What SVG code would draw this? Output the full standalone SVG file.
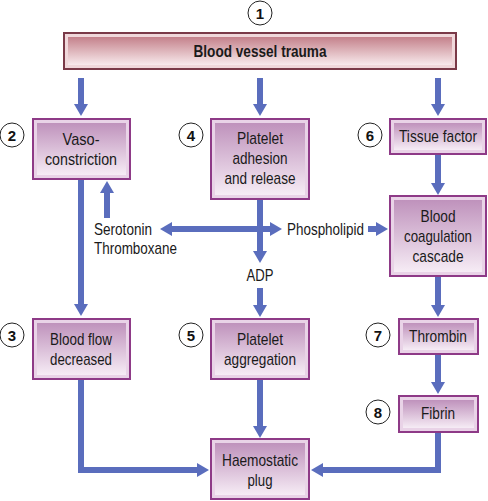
<svg xmlns="http://www.w3.org/2000/svg" width="488" height="501" viewBox="0 0 488 501">
<defs>
<linearGradient id="gp" x1="0" y1="0" x2="0" y2="1">
<stop offset="0" stop-color="#bf92bc"/>
<stop offset="1" stop-color="#f6ecf5"/>
</linearGradient>
<linearGradient id="gr" x1="0" y1="0" x2="0" y2="1">
<stop offset="0" stop-color="#c4818b"/>
<stop offset="1" stop-color="#f8eaec"/>
</linearGradient>
<marker id="ah" viewBox="0 0 12 14" refX="0" refY="7" markerWidth="12" markerHeight="14" markerUnits="userSpaceOnUse" orient="auto">
<path d="M0,0 L12,7 L0,14 z" fill="#5a6dbd"/>
</marker>
</defs>
<style>
.box{fill:#e9d3e7;stroke:#8e3a87;stroke-width:2}
.inner{fill:url(#gp);stroke:none}
.bar{fill:#f0d8db;stroke:#7a3a48;stroke-width:2}
.barin{fill:url(#gr)}
.t{font-family:"Liberation Sans",Arial,sans-serif;font-size:17px;fill:#1a1a1a;text-anchor:middle}
.l{font-family:"Liberation Sans",Arial,sans-serif;font-size:17px;fill:#1a1a1a}
.b{font-weight:bold}
.c{fill:#fff;stroke:#222;stroke-width:1}
.n{font-family:"Liberation Sans",Arial,sans-serif;font-size:15px;font-weight:bold;fill:#111;text-anchor:middle}
.a{fill:none;stroke:#5a6dbd;stroke-width:6;marker-end:url(#ah)}
</style>

<g id="connectors">
<path class="a" d="M81,78 V104"/>
<path class="a" d="M260,78 V104"/>
<path class="a" d="M438,78 V104"/>
<path class="a" d="M438,154 V183"/>
<path class="a" d="M107,218 V193"/>
<path class="a" d="M260,199 V251"/>
<path class="a" d="M260,229 H172"/>
<path class="a" d="M260,229 H270"/>
<path class="a" d="M368,229 H376"/>
<path class="a" d="M81,179 V304"/>
<path class="a" d="M260,288 V305"/>
<path class="a" d="M438,276 V305"/>
<path class="a" d="M438,354 V382"/>
<path class="a" d="M260,379 V426"/>
<path class="a" d="M81,379 V470 H197"/>
<path class="a" d="M438,432 V470 H323"/>
</g>

<g id="n1">
<circle class="c" cx="260" cy="13" r="12"/>
<text class="n" x="260" y="18.5">1</text>
</g>
<g id="trauma">
<rect class="bar" x="64" y="33" width="392" height="36"/>
<rect class="barin" x="68" y="37" width="384" height="28"/>
<text class="t b" x="260" y="56.5" font-size="17" textLength="133" lengthAdjust="spacingAndGlyphs">Blood vessel trauma</text>
</g>

<g id="n2">
<circle class="c" cx="12" cy="135" r="12"/>
<text class="n" x="12" y="140.5">2</text>
</g>
<g id="vasoconstriction">
<rect class="box" x="33" y="119" width="97" height="60"/>
<rect class="inner" x="37" y="123" width="89" height="52"/>
<text class="t" x="81" y="145" textLength="37" lengthAdjust="spacingAndGlyphs">Vaso-</text>
<text class="t" x="81" y="165" textLength="72" lengthAdjust="spacingAndGlyphs">constriction</text>
</g>

<g id="n4">
<circle class="c" cx="191" cy="135" r="12"/>
<text class="n" x="191" y="140.5">4</text>
</g>
<g id="adhesion">
<rect class="box" x="211" y="119" width="98" height="80"/>
<rect class="inner" x="215" y="123" width="90" height="72"/>
<text class="t" x="260" y="144" textLength="46" lengthAdjust="spacingAndGlyphs">Platelet</text>
<text class="t" x="260" y="164" textLength="55" lengthAdjust="spacingAndGlyphs">adhesion</text>
<text class="t" x="260" y="184" textLength="71" lengthAdjust="spacingAndGlyphs">and release</text>
</g>

<g id="n6">
<circle class="c" cx="370" cy="135" r="12"/>
<text class="n" x="370" y="140.5">6</text>
</g>
<g id="tissue">
<rect class="box" x="390" y="119" width="96" height="35"/>
<rect class="inner" x="394" y="123" width="88" height="27"/>
<text class="t" x="438" y="141.5" font-size="15" textLength="78" lengthAdjust="spacingAndGlyphs">Tissue factor</text>
</g>

<g id="cascade">
<rect class="box" x="390" y="196" width="96" height="80"/>
<rect class="inner" x="394" y="200" width="88" height="72"/>
<text class="t" x="438" y="222" textLength="35" lengthAdjust="spacingAndGlyphs">Blood</text>
<text class="t" x="438" y="242" font-size="15.5" textLength="68" lengthAdjust="spacingAndGlyphs">coagulation</text>
<text class="t" x="438" y="262" textLength="51" lengthAdjust="spacingAndGlyphs">cascade</text>
</g>

<g id="serotonin">
<text class="l" x="94" y="235" textLength="58" lengthAdjust="spacingAndGlyphs">Serotonin</text>
<text class="l" x="94" y="254" textLength="83" lengthAdjust="spacingAndGlyphs">Thromboxane</text>
</g>
<g id="phospholipid">
<text class="l" x="287" y="235" textLength="77" lengthAdjust="spacingAndGlyphs">Phospholipid</text>
</g>
<g id="adp">
<text class="t" x="260" y="281" textLength="27" lengthAdjust="spacingAndGlyphs">ADP</text>
</g>

<g id="n3">
<circle class="c" cx="12" cy="335" r="12"/>
<text class="n" x="12" y="340.5">3</text>
</g>
<g id="bloodflow">
<rect class="box" x="33" y="319" width="97" height="60"/>
<rect class="inner" x="37" y="323" width="89" height="52"/>
<text class="t" x="81" y="345" textLength="62" lengthAdjust="spacingAndGlyphs">Blood flow</text>
<text class="t" x="81" y="365" textLength="62" lengthAdjust="spacingAndGlyphs">decreased</text>
</g>

<g id="n5">
<circle class="c" cx="191" cy="335" r="12"/>
<text class="n" x="191" y="340.5">5</text>
</g>
<g id="aggregation">
<rect class="box" x="211" y="319" width="98" height="60"/>
<rect class="inner" x="215" y="323" width="90" height="52"/>
<text class="t" x="260" y="345" textLength="46" lengthAdjust="spacingAndGlyphs">Platelet</text>
<text class="t" x="260" y="365" textLength="72" lengthAdjust="spacingAndGlyphs">aggregation</text>
</g>

<g id="n7">
<circle class="c" cx="378" cy="335" r="12"/>
<text class="n" x="378" y="340.5">7</text>
</g>
<g id="thrombin">
<rect class="box" x="399" y="319" width="79" height="35"/>
<rect class="inner" x="403" y="323" width="71" height="27"/>
<text class="t" x="438" y="342" textLength="58" lengthAdjust="spacingAndGlyphs">Thrombin</text>
</g>

<g id="n8">
<circle class="c" cx="378" cy="412" r="12"/>
<text class="n" x="378" y="417.5">8</text>
</g>
<g id="fibrin">
<rect class="box" x="399" y="396" width="79" height="36"/>
<rect class="inner" x="403" y="400" width="71" height="28"/>
<text class="t" x="438" y="419" textLength="34" lengthAdjust="spacingAndGlyphs">Fibrin</text>
</g>

<g id="plug">
<rect class="box" x="211" y="439" width="98" height="60"/>
<rect class="inner" x="215" y="443" width="90" height="52"/>
<text class="t" x="260" y="466" textLength="76" lengthAdjust="spacingAndGlyphs">Haemostatic</text>
<text class="t" x="260" y="486" textLength="25" lengthAdjust="spacingAndGlyphs">plug</text>
</g>
</svg>
